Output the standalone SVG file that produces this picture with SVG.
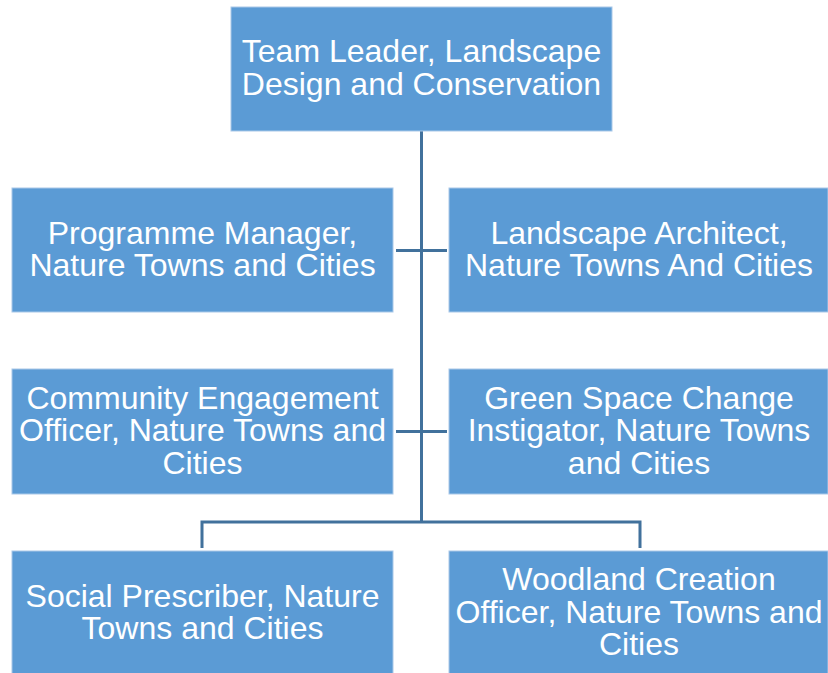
<svg xmlns="http://www.w3.org/2000/svg" width="828" height="673" viewBox="0 0 828 673">
<style>
.box{fill:#5B9BD5;stroke:#A9C8E8;stroke-width:1}
.t{font-family:"Liberation Sans",Arial,sans-serif;font-size:32px;fill:#ffffff;text-anchor:middle}
.c{fill:none;stroke:#41719C;stroke-width:3}
</style>
<rect width="828" height="673" fill="#ffffff"/>
<g id="connectors">
<path class="c" d="M421.5 131 V522"/>
<path class="c" d="M396 250.5 H447"/>
<path class="c" d="M396 431.5 H447"/>
<path class="c" d="M202 548 V522 H640 V548"/>
</g>
<g id="n0"><rect class="box" x="231" y="7" width="381" height="124"/>
<text class="t" x="421.5" y="62">Team Leader, Landscape</text><text class="t" x="421.5" y="94.5">Design and Conservation</text></g>
<g id="n1"><rect class="box" x="12" y="188" width="381" height="124"/>
<text class="t" x="202.5" y="243.5">Programme Manager,</text><text class="t" x="202.5" y="276">Nature Towns and Cities</text></g>
<g id="n2"><rect class="box" x="449" y="188" width="379" height="124"/>
<text class="t" x="639" y="243.5">Landscape Architect,</text><text class="t" x="639" y="276">Nature Towns And Cities</text></g>
<g id="n3"><rect class="box" x="12" y="369" width="381" height="125"/>
<text class="t" x="202.5" y="408.5">Community Engagement</text><text class="t" x="202.5" y="441">Officer, Nature Towns and</text><text class="t" x="202.5" y="473.5">Cities</text></g>
<g id="n4"><rect class="box" x="449" y="369" width="379" height="125"/>
<text class="t" x="639" y="408.5">Green Space Change</text><text class="t" x="639" y="441">Instigator, Nature Towns</text><text class="t" x="639" y="473.5">and Cities</text></g>
<g id="n5"><rect class="box" x="12" y="551" width="381" height="125"/>
<text class="t" x="202.5" y="606.5">Social Prescriber, Nature</text><text class="t" x="202.5" y="639">Towns and Cities</text></g>
<g id="n6"><rect class="box" x="449" y="551" width="379" height="125"/>
<text class="t" x="639" y="590">Woodland Creation</text><text class="t" x="639" y="622.5">Officer, Nature Towns and</text><text class="t" x="639" y="655">Cities</text></g>
</svg>
